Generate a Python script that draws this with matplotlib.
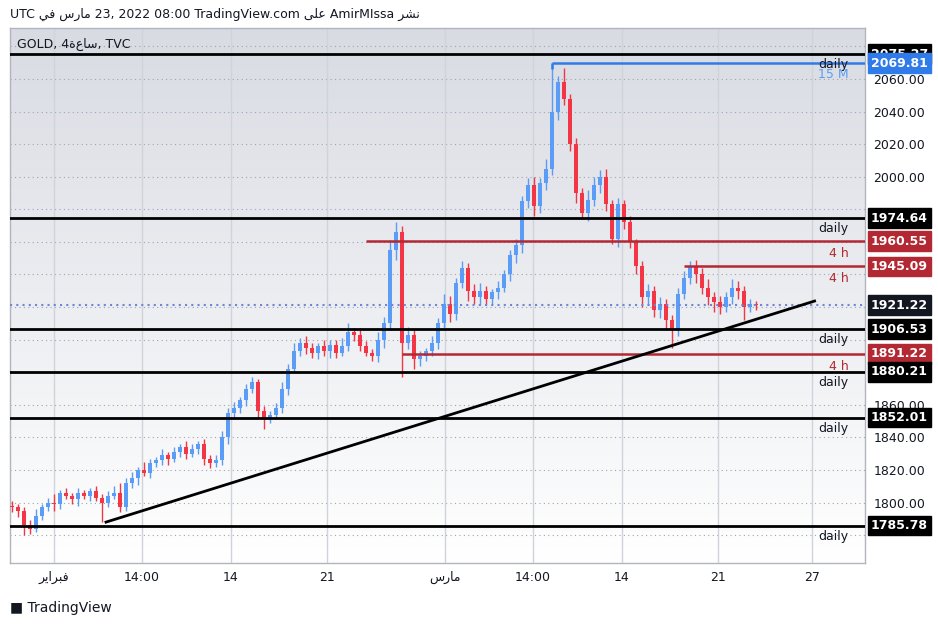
import matplotlib.pyplot as plt
import matplotlib.transforms as mtransforms
import numpy as np

# 8h-ish candles, index based; open = previous close
closes = [1797, 1795, 1786, 1784, 1792, 1797, 1800, 1799, 1806, 1804,
          1802, 1806, 1804, 1807, 1803, 1800, 1804, 1806, 1797, 1812,
          1815, 1820, 1818, 1824, 1826, 1829, 1827, 1831, 1834, 1830,
          1833, 1836, 1827, 1824, 1826, 1840, 1855, 1858, 1863, 1870,
          1874, 1856, 1852, 1854, 1858, 1870, 1882, 1893, 1898, 1895,
          1892, 1896, 1893, 1897, 1892, 1896, 1905, 1903, 1896, 1892,
          1890, 1900, 1910, 1955, 1966, 1898, 1903, 1888, 1890, 1893,
          1898, 1910, 1922, 1916, 1935, 1944, 1930, 1926, 1930, 1925,
          1929, 1932, 1940, 1952, 1958, 1985, 1995, 1982, 1996, 2005,
          2040, 2058, 2048, 2020, 1990, 1978, 1986, 1995, 2000, 1983,
          1962, 1983, 1972, 1960, 1945, 1926, 1930, 1918, 1922, 1912,
          1906, 1928, 1938, 1945, 1940, 1932, 1926, 1923, 1920, 1926,
          1932, 1930, 1920, 1922, 1921.22]
wick_up = [3, 2, 2, 3, 4, 2, 3, 5, 2, 3,
           2, 3, 2, 2, 3, 2, 3, 4, 6, 3,
           4, 2, 5, 3, 2, 4, 2, 3, 2, 4,
           3, 2, 3, 2, 3, 4, 3, 4, 2, 3,
           3, 2, 3, 2, 3, 4, 3, 5, 3, 4,
           3, 2, 4, 3, 3, 5, 5, 2, 4, 3,
           2, 5, 4, 6, 6, 4, 5, 3, 3, 2,
           4, 3, 6, 5, 3, 4, 3, 4, 5, 3,
           2, 4, 3, 3, 4, 3, 4, 5, 3, 6,
           6, 4, 9, 3, 4, 3, 6, 5, 4, 5,
           3, 4, 3, 4, 2, 3, 4, 3, 4, 3,
           3, 4, 4, 3, 4, 4, 5, 3, 4, 3,
           5, 4, 3, 3, 2]
wick_dn = [3, 4, 6, 3, 2, 3, 2, 4, 3, 2,
           3, 4, 2, 3, 2, 12, 3, 2, 3, 2,
           3, 4, 2, 3, 2, 3, 4, 2, 3, 3,
           2, 3, 4, 3, 2, 3, 4, 3, 3, 4,
           3, 4, 7, 3, 2, 3, 4, 2, 3, 4,
           3, 4, 3, 4, 3, 2, 3, 4, 3, 2,
           3, 4, 5, 4, 6, 21, 4, 6, 4, 3,
           3, 4, 3, 5, 4, 3, 6, 4, 5, 4,
           3, 4, 3, 4, 5, 5, 4, 6, 4, 4,
           4, 5, 4, 4, 6, 4, 5, 4, 5, 4,
           3, 5, 4, 4, 5, 6, 5, 4, 5, 6,
           11, 4, 3, 4, 5, 4, 5, 6, 4, 3,
           4, 5, 8, 3, 3]
highs_override = {40: 1877, 64: 1972, 90: 2069.81, 113: 1948}

black_levels = [2075.27, 1974.64, 1906.53, 1880.21, 1852.01, 1785.78]
red_levels = [1960.55, 1945.09, 1891.22]
red_starts = [59, 112, 65]
last_price = 1921.22
blue_level = 2069.81
blue_start = 90
trend_x = [15.7, 133.8]
trend_y = [1788, 1923.7]

tick_pos = [7, 21.7, 36.5, 52.5, 72.2, 86.8, 101.7, 117.7, 133.3]
tick_lbl = ["\uFEAE\uFEF3\uFE8D\uFEAE\uFE92\uFED3", "14:00", "14", "21",
            "\uFEB1\uFEAD\uFE8E\uFEE3", "14:00", "14", "21", "27"]
price_ticks = np.arange(1780, 2081, 20)

BLUE = "#5b9cf6"
RED = "#f23645"
DRED = "#b22833"
plt.rcParams['font.family'] = ['DejaVu Sans']

fig = plt.figure(figsize=(9.38, 6.27), dpi=100)
ax = fig.add_axes([10/938, 64/627, 855/938, 535/627])
ymin, ymax = 1762.9, 2091.3
xmin, xmax = -0.3, 142.2
ax.set_xlim(xmin, xmax)
ax.set_ylim(ymin, ymax)

grad = np.linspace(1, 0, 256).reshape(-1, 1, 1)
c_top = np.array([0.85, 0.86, 0.89])
c_bot = np.array([1.0, 1.0, 1.0])
img = c_bot + (c_top - c_bot) * grad
ax.imshow(img, extent=[xmin, xmax, ymin, ymax], aspect='auto', origin='upper', zorder=0)

for p in price_ticks:
    ax.axhline(p, color="#a0a4ad", lw=0.8, ls=(0, (1, 3)), zorder=1)
for t in tick_pos:
    ax.axvline(t, color="#d0d3da", lw=1, zorder=1)

opens = [closes[0] + 1] + closes[:-1]
for i, c in enumerate(closes):
    o = opens[i]
    col = BLUE if c >= o else RED
    hi = highs_override.get(i, max(o, c) + wick_up[i])
    lo = min(o, c) - wick_dn[i]
    ax.vlines(i, lo, hi, color=col, lw=1, zorder=3)
    body = max(abs(c - o), 0.8)
    ax.bar(i, body, bottom=min(o, c), width=0.6, color=col, zorder=3)

for lv in black_levels:
    ax.axhline(lv, color="black", lw=2, zorder=4)
for lv, s in zip(red_levels, red_starts):
    ax.hlines(lv, s, xmax, color=DRED, lw=1.8, zorder=4)
ax.hlines(blue_level, blue_start, xmax, color="#2f7bea", lw=1.8, zorder=4)
ax.vlines(blue_start, 2066, blue_level, color="#2f7bea", lw=1.8, zorder=4)
ax.plot(trend_x, trend_y, color="black", lw=2, zorder=5)
ax.axhline(last_price, color="#6f86d6", lw=1.5, ls=(0, (1, 2)), zorder=4)

for lv in black_levels:
    ax.text(139.5, lv - 2.5, "daily", ha="right", va="top", fontsize=9, color="#131722", zorder=6)
for lv in red_levels:
    ax.text(139.5, lv - 3.5, "4 h", ha="right", va="top", fontsize=9, color=DRED, zorder=6)
ax.text(139.5, blue_level - 3.2, "15 M", ha="right", va="top", fontsize=9, color=BLUE, zorder=6)

ax.text(0.008, 0.982, "GOLD, 4\uFE93\uFEC9\uFE8E\uFEB3, TVC", transform=ax.transAxes,
        fontsize=9, color="#131722", va="top", ha="left", zorder=6)

boxes = [(2075.27, "black"), (2069.81, "#2f7bea"), (1974.64, "black"), (1960.55, DRED),
         (1945.09, DRED), (1921.22, "#131722"), (1906.53, "black"), (1891.22, DRED),
         (1880.21, "black"), (1852.01, "black"), (1785.78, "black")]
box_lv = np.array([b[0] for b in boxes])

ax.set_xticks(tick_pos)
ax.set_xticklabels(tick_lbl, fontsize=9, color="#131722")
ax.yaxis.tick_right()
ax.set_yticks(price_ticks)
ax.set_yticklabels([f"{p:.2f}" if np.min(np.abs(box_lv - p)) > 6.6 else "" for p in price_ticks],
                   fontsize=9, color="#131722")
ax.tick_params(axis='both', length=0, pad=6)
for s in ax.spines.values():
    s.set_color("#b2b5be")
    s.set_linewidth(1)

trans = mtransforms.blended_transform_factory(ax.transAxes, ax.transData)
for lv, col in boxes:
    ax.text(1.007, lv, f"{lv:.2f}", transform=trans, ha="left", va="center", fontsize=9,
            color="white", fontweight="bold", clip_on=False, zorder=10,
            bbox=dict(boxstyle="square,pad=0.25", fc=col, ec=col))

fig.text(10/938, 1 - 14/627, "UTC \uFEF2\uFED3 \uFEB1\uFEAD\uFE8E\uFEE3 23, 2022 08:00 TradingView.com "
         "\uFEF0\uFEE0\uFECB AmirMIssa \uFEAE\uFEB8\uFEE7", fontsize=9, va="center", color="#131722")
fig.text(10/938, 1 - 608/627, "\u25A0 TradingView", fontsize=10, va="center", color="#131722")

fig.savefig("out.png", dpi=100, facecolor="white")
